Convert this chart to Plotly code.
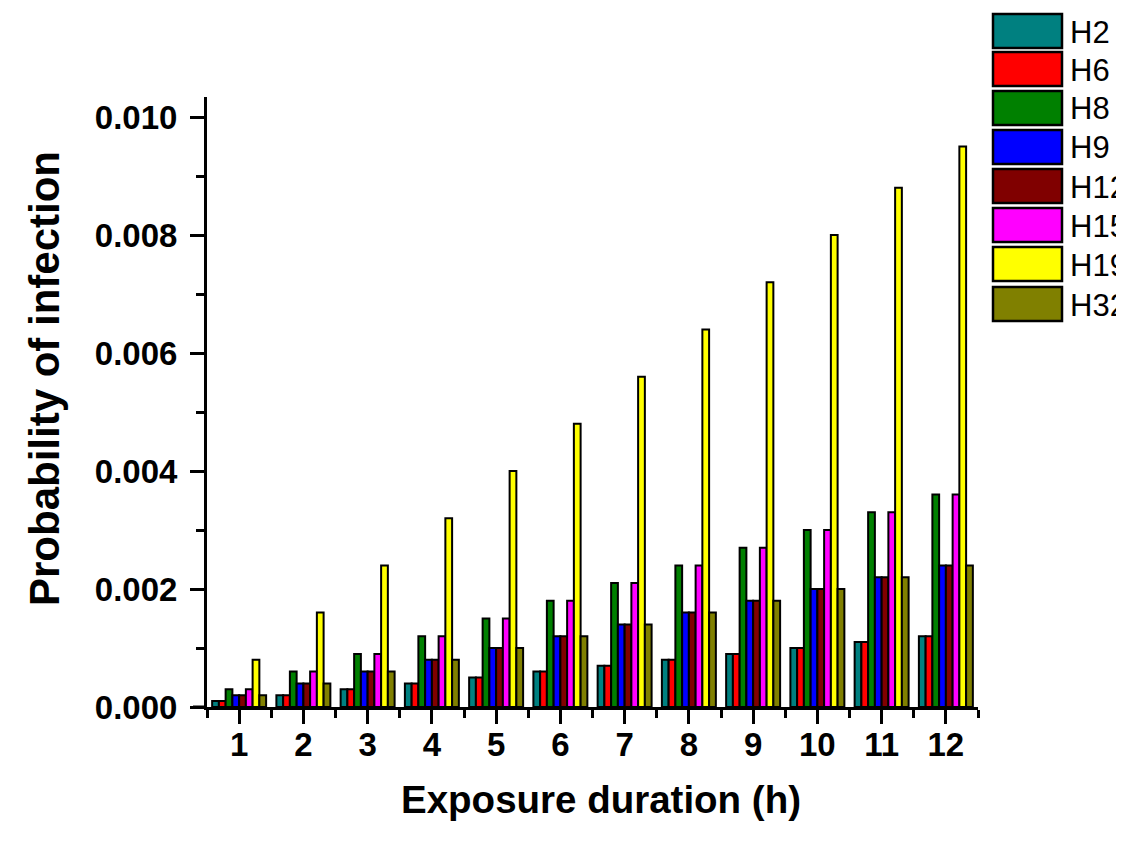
import plotly.graph_objects as go

hours = [1, 2, 3, 4, 5, 6, 7, 8, 9, 10, 11, 12]
tick_labels = ["1", "2", "3", "4", "5", "6", "7", "8", "9", "10", "11", "12"]

H2 = [0.0001, 0.0002, 0.0003, 0.0004, 0.0005, 0.0006, 0.0007, 0.0008, 0.0009, 0.0010, 0.0011, 0.0012]
H6 = [0.0001, 0.0002, 0.0003, 0.0004, 0.0005, 0.0006, 0.0007, 0.0008, 0.0009, 0.0010, 0.0011, 0.0012]
H8 = [0.0003, 0.0006, 0.0009, 0.0012, 0.0015, 0.0018, 0.0021, 0.0024, 0.0027, 0.0030, 0.0033, 0.0036]
H9 = [0.0002, 0.0004, 0.0006, 0.0008, 0.0010, 0.0012, 0.0014, 0.0016, 0.0018, 0.0020, 0.0022, 0.0024]
H12 = [0.0002, 0.0004, 0.0006, 0.0008, 0.0010, 0.0012, 0.0014, 0.0016, 0.0018, 0.0020, 0.0022, 0.0024]
H15 = [0.0003, 0.0006, 0.0009, 0.0012, 0.0015, 0.0018, 0.0021, 0.0024, 0.0027, 0.0030, 0.0033, 0.0036]
H19 = [0.0008, 0.0016, 0.0024, 0.0032, 0.0040, 0.0048, 0.0056, 0.0064, 0.0072, 0.0080, 0.0088, 0.0095]
H32 = [0.0002, 0.0004, 0.0006, 0.0008, 0.0010, 0.0012, 0.0014, 0.0016, 0.0018, 0.0020, 0.0022, 0.0024]

series_names = ["H2", "H6", "H8", "H9", "H12", "H15", "H19", "H32"]
series_values = [H2, H6, H8, H9, H12, H15, H19, H32]
colors = ["#008080", "#FF0000", "#008000", "#0000FF", "#800000", "#FF00FF", "#FFFF00", "#808000"]

FONT = "Arial, Liberation Sans, sans-serif"
OFF = 8  # page body margin offset
W, H = 1124 - OFF, 842 - OFF
# plot-area edges in screenshot pixels
X0, X1, Y0, Y1 = 207, 978, 97, 707
L, R, T, B = X0 - OFF, W - (X1 - OFF), Y0 - OFF, H - (Y1 - OFF)
PW, PH = W - L - R, H - T - B

fig = go.Figure()
for name, vals, col in zip(series_names, series_values, colors):
    fig.add_trace(go.Bar(
        x=hours, y=vals, name=name,
        marker=dict(color=col, line=dict(color="black", width=2)),
    ))


def px_x(p):
    return (p - X0) / PW


def px_y(p):
    return (Y1 - p) / PH


shapes = []
annotations = []
# legend drawn manually (large boxes like the original)
box_tops = [14, 52, 91, 130, 169, 208, 247, 287]
for name, col, top in zip(series_names, colors, box_tops):
    shapes.append(dict(type="rect", xref="paper", yref="paper",
                       x0=px_x(993), x1=px_x(1062), y0=px_y(top + 34), y1=px_y(top),
                       fillcolor=col, line=dict(color="black", width=2.5)))
    annotations.append(dict(xref="paper", yref="paper", x=px_x(1068), y=px_y(top + 18),
                            xanchor="left", yanchor="middle", showarrow=False,
                            text=name, font=dict(family=FONT, size=31, color="black")))

# x-axis line extension to the left of the y axis (Origin style)
shapes.append(dict(type="line", xref="paper", yref="paper",
                   x0=px_x(193), x1=0, y0=0, y1=0, line=dict(color="black", width=3)))

annotations.append(dict(xref="paper", yref="paper", x=px_x(601), y=px_y(800),
                        xanchor="center", yanchor="middle", showarrow=False,
                        text="Exposure duration (h)",
                        font=dict(family=FONT, size=38.5, color="black", weight="bold")))
annotations.append(dict(xref="paper", yref="paper", x=px_x(44), y=px_y(379),
                        xanchor="center", yanchor="middle", showarrow=False, textangle=-90,
                        text="Probability of infection",
                        font=dict(family=FONT, size=42, color="black", weight="bold")))

fig.update_layout(
    width=W, height=H, autosize=False,
    margin=dict(l=L, r=R, t=T, b=B, pad=0),
    paper_bgcolor="white", plot_bgcolor="white",
    barmode="group", bargap=0.16, bargroupgap=0,
    showlegend=False,
    shapes=shapes, annotations=annotations,
    xaxis=dict(
        range=[0.5, 12.5], tickmode="array", tickvals=hours, ticktext=tick_labels,
        showline=True, linecolor="black", linewidth=3, showgrid=False, zeroline=False,
        ticks="outside", ticklen=14, tickwidth=3, tickcolor="black",
        minor=dict(ticks="outside", ticklen=8, tickwidth=3, tickcolor="black",
                   tickmode="linear", tick0=0.5, dtick=1),
        tickfont=dict(family=FONT, size=33, color="black", weight="bold"),
        ticklabelstandoff=-8,
    ),
    yaxis=dict(
        range=[0, 0.01034], tickmode="linear", tick0=0, dtick=0.002, tickformat=".3f",
        showline=True, linecolor="black", linewidth=3, showgrid=False, zeroline=False,
        ticks="outside", ticklen=14, tickwidth=3, tickcolor="black",
        minor=dict(ticks="outside", ticklen=8, tickwidth=3, tickcolor="black", dtick=0.001),
        tickfont=dict(family=FONT, size=33, color="black", weight="bold"),
        ticklabelstandoff=6,
    ),
)

fig.write_html("out.html")
